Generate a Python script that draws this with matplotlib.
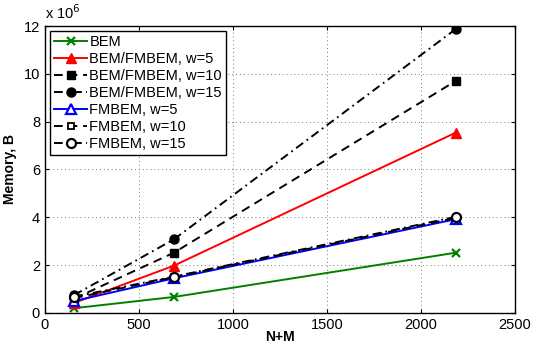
import matplotlib
matplotlib.use('Agg')
import matplotlib.pyplot as plt

plt.rcParams['font.family'] = ['Liberation Sans', 'DejaVu Sans']

nm = [155, 686, 2185]

bem = [0.20e6, 0.67e6, 2.52e6]
bem_fmbem_w5 = [0.42e6, 1.98e6, 7.54e6]
bem_fmbem_w10 = [0.60e6, 2.52e6, 9.70e6]
bem_fmbem_w15 = [0.75e6, 3.08e6, 11.87e6]
fmbem_w5 = [0.50e6, 1.45e6, 3.92e6]
fmbem_w10 = [0.62e6, 1.50e6, 3.98e6]
fmbem_w15 = [0.68e6, 1.52e6, 4.02e6]

dash = (4.5, 3)
dashdot = (4.5, 2.2, 0.9, 2.2)
lw = 1.4

fig = plt.figure(figsize=(5.33, 3.45), dpi=100)
ax = fig.add_axes([0.0844, 0.0928, 0.8816, 0.8318])

ax.plot(nm, bem, color='green', marker='x', ms=6, mew=1.6, lw=lw, label='BEM')
ax.plot(nm, bem_fmbem_w5, color='red', marker='^', ms=7.5, lw=lw, label='BEM/FMBEM, w=5')
ax.plot(nm, bem_fmbem_w10, color='black', dashes=dash, marker='s', ms=5.5, lw=lw, label='BEM/FMBEM, w=10')
ax.plot(nm, bem_fmbem_w15, color='black', dashes=dashdot, marker='o', ms=6.5, lw=lw, label='BEM/FMBEM, w=15')
ax.plot(nm, fmbem_w5, color='blue', marker='^', ms=7.5, mfc='white', mew=1.6, lw=lw, label='FMBEM, w=5')
ax.plot(nm, fmbem_w10, color='black', dashes=dash, marker='s', ms=5, mfc='white', mew=1.3, lw=lw, label='FMBEM, w=10')
ax.plot(nm, fmbem_w15, color='black', dashes=dashdot, marker='o', ms=6.5, mfc='white', mew=1.6, lw=lw, label='FMBEM, w=15')

ax.set_xlim(0, 2500)
ax.set_ylim(0, 12e6)
ax.set_xticks([0, 500, 1000, 1500, 2000, 2500])
ax.set_yticks([0, 2e6, 4e6, 6e6, 8e6, 10e6, 12e6])
ax.set_yticklabels(['0', '2', '4', '6', '8', '10', '12'])
ax.tick_params(labelsize=10.5, direction='in', length=3, top=True, right=True)
ax.grid(True, color='#777777', lw=0.7, dashes=(1, 3))
for s in ax.spines.values():
    s.set_linewidth(1.0)

ax.text(0.0, 1.015, r'x 10$^6$', transform=ax.transAxes, fontsize=10.5, ha='left', va='bottom')
ax.set_xlabel('N+M', fontsize=10, fontweight='bold', labelpad=-1)
ax.set_ylabel('Memory, B', fontsize=10, fontweight='bold', labelpad=5)

leg = ax.legend(loc='upper left', fontsize=10.5, fancybox=False, framealpha=1,
                edgecolor='black', borderaxespad=0.35, handlelength=2.2,
                handletextpad=0.2, labelspacing=0.2, borderpad=0.3)
leg.get_frame().set_linewidth(1.0)

fig.savefig('out.png', dpi=100)
